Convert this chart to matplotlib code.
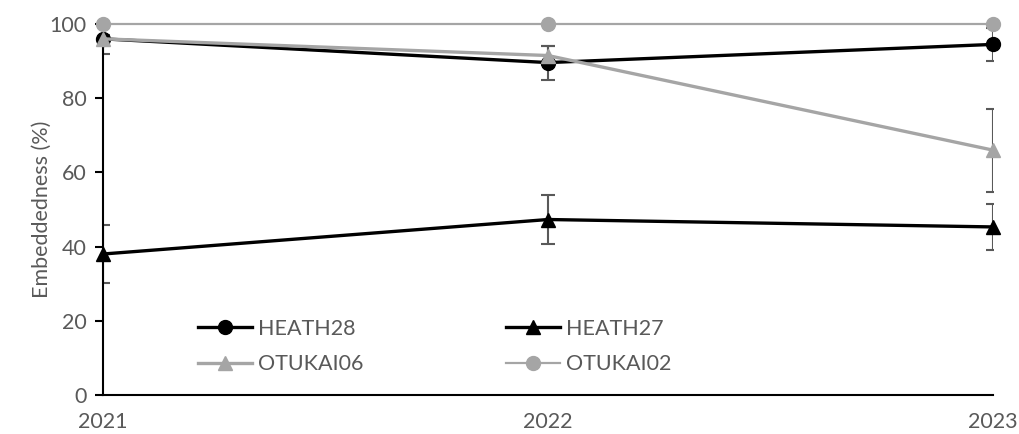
import matplotlib
matplotlib.use("Agg")
import matplotlib.pyplot as plt

plt.rcParams['font.family'] = ['Lato', 'DejaVu Sans']

years = [2021, 2022, 2023]

heath28 = [96.0, 89.6, 94.5]
heath28_err = [4.0, 4.6, 4.5]
heath27 = [38.0, 47.3, 45.3]
heath27_err = [7.7, 6.6, 6.3]
otukai06 = [96.0, 91.5, 66.0]
otukai06_err = [1.0, 2.6, 11.2]
otukai02 = [100.0, 100.0, 100.0]

BLACK = '#000000'
GREY = '#A5A5A5'
ERR = '#595959'
TXT = '#595959'
FS = 15.5

fig = plt.figure(figsize=(10.2, 4.34), dpi=100)
ax = fig.add_axes([0.101, 0.0899, 0.9735 - 0.101, 0.9447 - 0.0899])

# error bars first (clipped, grey)
for vals, errs in [(heath28, heath28_err), (heath27, heath27_err), (otukai06, otukai06_err)]:
    ax.errorbar(years, vals, yerr=errs, fmt='none', ecolor=ERR, elinewidth=1.5,
                capsize=5, capthick=1.5, zorder=2)

series = [
    ('HEATH28', heath28, BLACK, 'o', 2.4),
    ('OTUKAI06', otukai06, GREY, '^', 2.4),
    ('HEATH27', heath27, BLACK, '^', 2.4),
    ('OTUKAI02', otukai02, GREY, 'o', 1.6),
]
for name, vals, col, mk, lw in series:
    ax.plot(years, vals, color=col, marker=mk, markersize=10, linewidth=lw,
            label=name, clip_on=False, zorder=3)

ax.set_xlim(2021, 2023)
ax.set_ylim(0, 100)
ax.set_xticks(years)
ax.set_xticklabels([str(y) for y in years])
ax.set_yticks(range(0, 101, 20))

for s in ['top', 'right']:
    ax.spines[s].set_visible(False)
for s in ['left', 'bottom']:
    ax.spines[s].set_color(BLACK)
    ax.spines[s].set_linewidth(1.5)

ax.tick_params(axis='y', direction='out', length=6, width=1.5, color=BLACK,
               labelsize=FS, labelcolor=TXT, pad=6)
ax.tick_params(axis='x', length=0, labelsize=FS, labelcolor=TXT, pad=12)
ax.set_ylabel('Embeddedness (%)', fontsize=FS, color=TXT)
ax.yaxis.set_label_coords(-0.058, 0.5)

leg = ax.legend(ncol=2, loc='upper left', bbox_to_anchor=(198 / 1020, 1 - 319 / 434),
                bbox_transform=fig.transFigure, frameon=False, fontsize=FS,
                handlelength=2.5, handletextpad=0.3, columnspacing=6.6,
                labelspacing=0.72, borderpad=0, borderaxespad=0)
for t in leg.get_texts():
    t.set_color(TXT)

fig.savefig('out.png', dpi=100)
